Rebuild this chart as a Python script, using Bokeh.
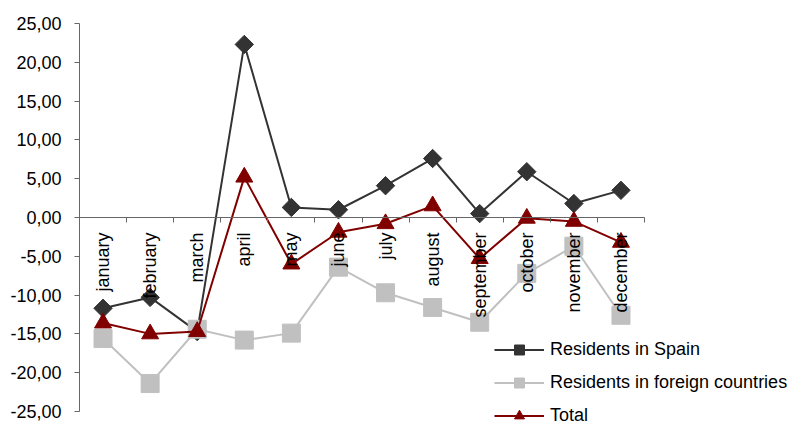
import math
from bokeh.plotting import figure
from bokeh.models import Range1d, FixedTicker, LinearAxis
from bokeh.core.properties import value
from bokeh.embed import file_html
from bokeh.resources import INLINE

months = ["january", "february", "march", "april", "may", "june", "july",
          "august", "september", "october", "november", "december"]
spain = [-11.7, -10.3, -14.7, 22.3, 1.3, 1.0, 4.1, 7.6, 0.5, 5.9, 1.8, 3.5]
foreign = [-15.6, -21.4, -14.4, -15.8, -14.9, -6.4, -9.7, -11.6, -13.5, -7.2, -3.7, -12.6]
total = [-13.6, -15.0, -14.7, 5.2, -6.0, -1.9, -0.8, 1.5, -5.3, -0.1, -0.5, -3.2]
y_ticks = [-25, -20, -15, -10, -5, 0, 5, 10, 15, 20, 25]
y_tick_labels = ["-25,00", "-20,00", "-15,00", "-10,00", "-5,00", "0,00",
                 "5,00", "10,00", "15,00", "20,00", "25,00"]

FONT = "Liberation Sans"
AXIS_COLOR = "#666666"
x = list(range(len(months)))
n = len(months)

# layout: plotted area 79..644 px wide, 23..411 px tall; frame extended right/down
# so that the legend (which sits partly outside the axes) is not clipped
W, H = 791, 427
left, top = 79, 23
axis_right, axis_bottom = 644, 411
px_per_x = (axis_right - left) / n
px_per_y = (axis_bottom - top) / 50.0
x_end = (n - 0.5) + (W - axis_right) / px_per_x
y_start = -25 - (H - axis_bottom) / px_per_y

p = figure(width=W, height=H, output_backend="svg", toolbar_location=None,
           x_range=Range1d(-0.5, x_end), y_range=Range1d(y_start, 25),
           min_border_left=left, min_border_right=0, min_border_top=top,
           min_border_bottom=0, x_axis_type=None)
p.outline_line_color = None
p.grid.visible = False
p.background_fill_color = "white"
p.border_fill_color = "white"

# y axis
p.yaxis.ticker = FixedTicker(ticks=y_ticks)
p.yaxis.bounds = (-25, 25)
p.yaxis.major_label_overrides = {t: l for t, l in zip(y_ticks, y_tick_labels)}
p.yaxis.major_label_text_font = FONT
p.yaxis.major_label_text_font_size = "18px"
p.yaxis.major_label_text_color = "black"
p.yaxis.axis_line_color = AXIS_COLOR
p.yaxis.major_tick_line_color = AXIS_COLOR
p.yaxis.major_tick_in = 0
p.yaxis.major_tick_out = 5
p.yaxis.minor_tick_line_color = None
p.yaxis.major_label_standoff = 13

# x axis at y = 0 with ticks at category boundaries
xax = LinearAxis(ticker=FixedTicker(ticks=[i - 0.5 for i in range(n + 1)]),
                 fixed_location=0, bounds=(-0.5, n - 0.5))
xax.major_label_text_font_size = "0px"
xax.major_label_text_alpha = 0
xax.axis_line_color = AXIS_COLOR
xax.major_tick_line_color = AXIS_COLOR
xax.major_tick_in = 0
xax.major_tick_out = 5
xax.minor_tick_line_color = None
xax.major_label_standoff = 0
p.add_layout(xax, "below")

# series
p.line(x, spain, line_color="#333333", line_width=2, legend_label="Residents in Spain")
p.scatter(x, spain, marker="square", angle=math.pi / 4, size=13, fill_color="#333333",
          line_color="#333333", legend_label="Residents in Spain")

p.line(x, foreign, line_color="#c0c0c0", line_width=2, legend_label="Residents in foreign countries")
p.scatter(x, foreign, marker="square", size=18, fill_color="#c0c0c0",
          line_color="#c0c0c0", legend_label="Residents in foreign countries")

p.line(x, total, line_color="#800000", line_width=2, legend_label="Total")
p.scatter(x, total, marker="triangle", size=17, fill_color="#800000",
          line_color="#800000", legend_label="Total")

# month labels, rotated, hanging below the zero line
p.text(x, [0] * n, text=months, angle=math.pi / 2, text_align="right",
       text_baseline="middle", y_offset=15, text_font=value(FONT),
       text_font_size="18px", text_color="black")

leg = p.legend[0]
leg.location = (415, -1)
leg.background_fill_alpha = 0
leg.border_line_color = None
leg.padding = 0
leg.margin = 0
leg.glyph_width = 50
leg.glyph_height = 25
leg.label_height = 25
leg.spacing = 8
leg.label_standoff = 6
leg.label_text_font = FONT
leg.label_text_font_size = "18px"
leg.label_text_color = "black"

open("out.html", "w").write(file_html(p, INLINE))
